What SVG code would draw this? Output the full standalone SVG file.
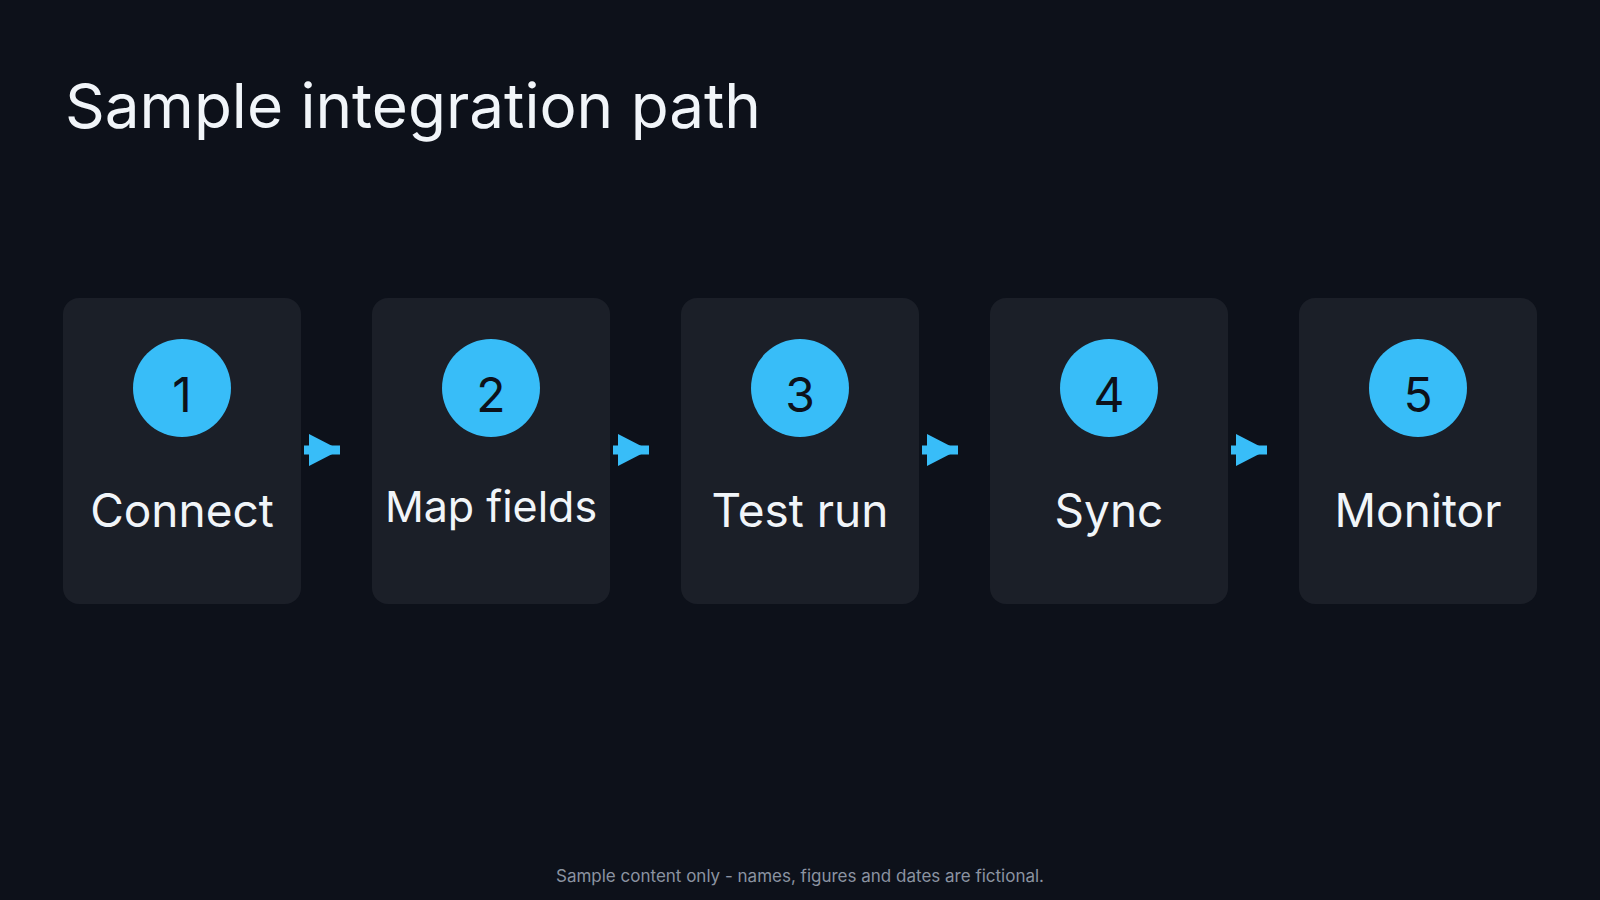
<svg xmlns="http://www.w3.org/2000/svg" width="1600" height="900" viewBox="0 0 1600 900">
<style>
.box{fill:#1b1f28}
.c{fill:#38bdf8}
.num{font-family:Inter,"Liberation Sans",sans-serif;font-size:48px;fill:#0d111a;text-anchor:middle}
.lbl{font-family:Inter,"Liberation Sans",sans-serif;font-size:46px;fill:#f1f5f9;text-anchor:middle}
.ar{stroke:#38bdf8;stroke-width:9;fill:none}
</style>
<defs><marker id="h" markerWidth="4" markerHeight="4" refX="3.5" refY="2" orient="auto" markerUnits="strokeWidth"><path d="M0,0.2 L3.5,2 L0,3.8Z" fill="#38bdf8"/></marker></defs>
<rect width="1600" height="900" fill="#0d111a"/>
<text x="65" y="128" font-family="Inter,'Liberation Sans',sans-serif" font-size="62" fill="#f1f5f9">Sample integration path</text>
<g id="connectors">
<line class="ar" x1="304" y1="450" x2="340" y2="450" marker-end="url(#h)"/>
<line class="ar" x1="613" y1="450" x2="649" y2="450" marker-end="url(#h)"/>
<line class="ar" x1="922" y1="450" x2="958" y2="450" marker-end="url(#h)"/>
<line class="ar" x1="1231" y1="450" x2="1267" y2="450" marker-end="url(#h)"/>
</g>
<g id="n1"><rect class="box" x="63" y="298" width="238" height="306" rx="16"/><circle class="c" cx="182" cy="388" r="49"/><text class="num" x="182" y="412">1</text><text class="lbl" x="182" y="527">Connect</text></g>
<g id="n2"><rect class="box" x="372" y="298" width="238" height="306" rx="16"/><circle class="c" cx="491" cy="388" r="49"/><text class="num" x="491" y="412">2</text><text class="lbl" x="491" y="522" style="font-size:43px">Map fields</text></g>
<g id="n3"><rect class="box" x="681" y="298" width="238" height="306" rx="16"/><circle class="c" cx="800" cy="388" r="49"/><text class="num" x="800" y="412">3</text><text class="lbl" x="800" y="527">Test run</text></g>
<g id="n4"><rect class="box" x="990" y="298" width="238" height="306" rx="16"/><circle class="c" cx="1109" cy="388" r="49"/><text class="num" x="1109" y="412">4</text><text class="lbl" x="1109" y="527">Sync</text></g>
<g id="n5"><rect class="box" x="1299" y="298" width="238" height="306" rx="16"/><circle class="c" cx="1418" cy="388" r="49"/><text class="num" x="1418" y="412">5</text><text class="lbl" x="1418" y="527">Monitor</text></g>
<text x="800" y="882" text-anchor="middle" font-family="Inter,'Liberation Sans',sans-serif" font-size="17" fill="#8b93a1">Sample content only - names, figures and dates are fictional.</text>
</svg>
